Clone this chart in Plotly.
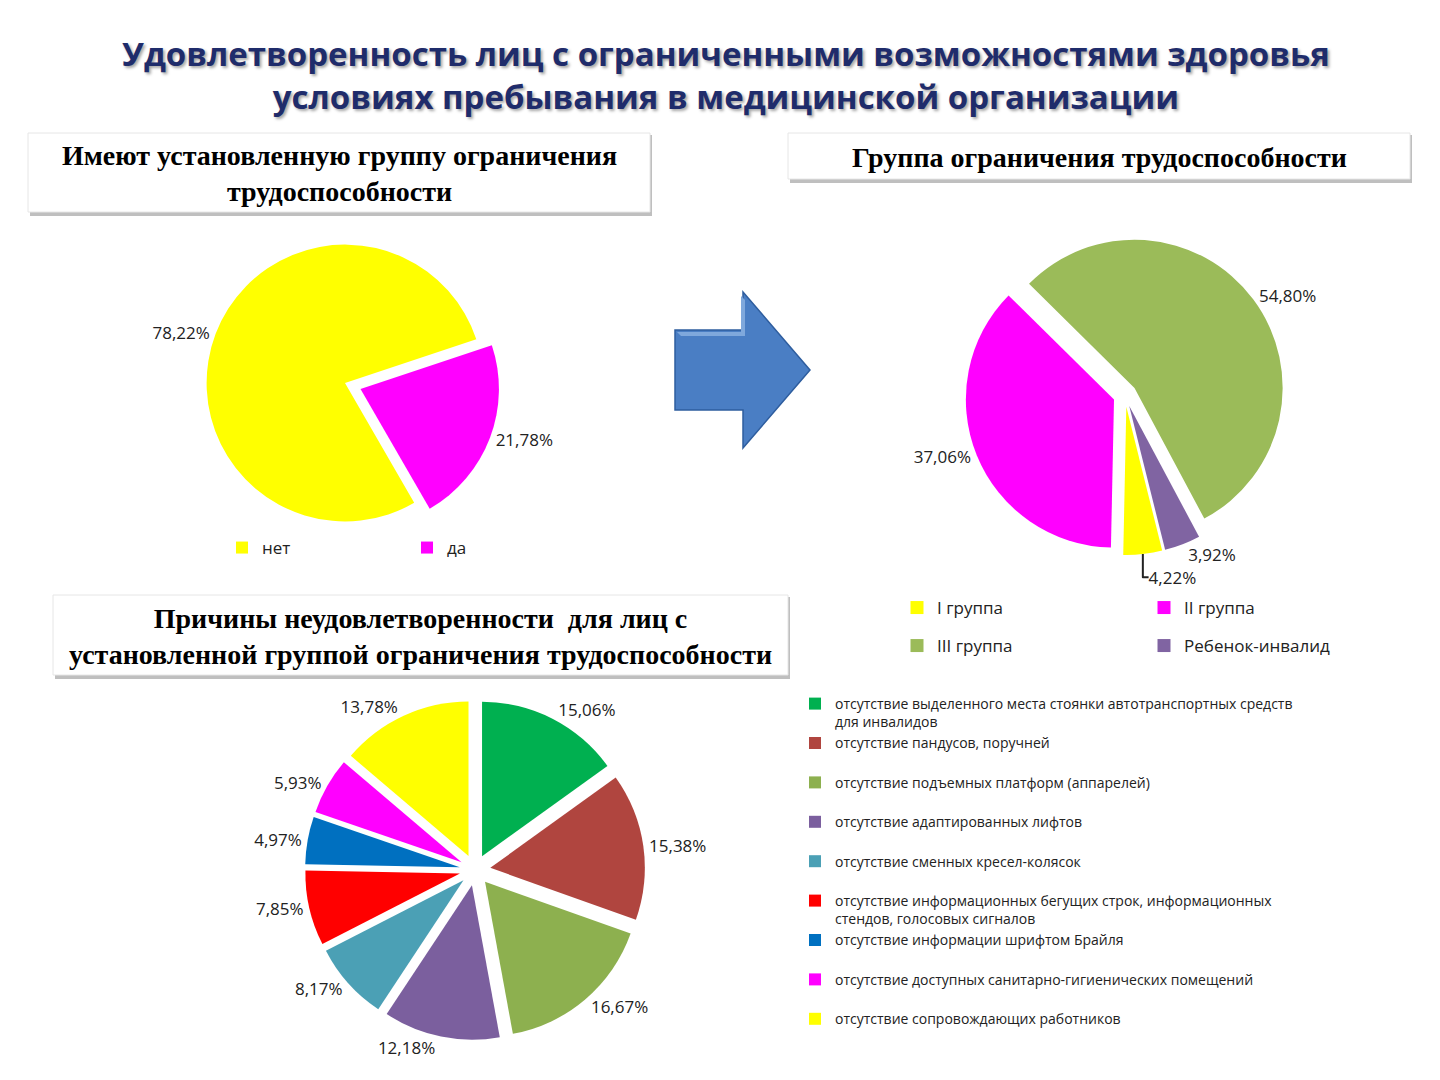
import plotly.graph_objects as go

W, H = 1440, 1080

# --- data ---
status_labels = ["нет", "да"]
status_values = [78.22, 21.78]
status_colors = ["#FFFF00", "#FF00FF"]

group_labels = ["I группа", "II группа", "III группа", "Ребенок-инвалид"]
group_values = [4.22, 37.06, 54.80, 3.92]
group_colors = ["#FFFF00", "#FF00FF", "#9BBB59", "#8064A2"]

reason_labels = [
    "отсутствие выделенного места стоянки автотранспортных средств<br>для инвалидов",
    "отсутствие пандусов, поручней",
    "отсутствие подъемных платформ (аппарелей)",
    "отсутствие адаптированных лифтов",
    "отсутствие сменных кресел-колясок",
    "отсутствие информационных бегущих строк, информационных<br>стендов, голосовых сигналов",
    "отсутствие информации шрифтом Брайля",
    "отсутствие доступных санитарно-гигиенических помещений",
    "отсутствие сопровождающих работников",
]
reason_values = [15.06, 15.38, 16.67, 12.18, 8.17, 7.85, 4.97, 5.93, 13.78]
reason_colors = ["#00B050", "#B0453F", "#8DB04F", "#7B5F9E", "#4BA0B5",
                 "#FF0000", "#0070C0", "#FF00FF", "#FFFF00"]


def pct(vals):
    return [f"{v:.2f}%".replace(".", ",") for v in vals]


def pad2(labels):
    # every legend entry takes two lines, like the slide
    return [l if "<br>" in l else l + "<br>\u00a0" for l in labels]


def px_x(x):
    return x / W


def px_y(y):
    return 1 - y / H


label_font = dict(family="Open Sans", size=17, color="#222222")

fig = go.Figure()

fig.add_trace(go.Pie(
    labels=status_labels, values=status_values, text=pct(status_values),
    texttemplate="%{text}", textposition="outside", textfont=label_font,
    marker=dict(colors=status_colors, line=dict(width=0)),
    sort=False, direction="clockwise", rotation=150, pull=[0, 0.12],
    domain=dict(x=[px_x(110), px_x(580)], y=[px_y(538), px_y(228)]),
    legend="legend", hoverinfo="label+percent",
))

fig.add_trace(go.Pie(
    labels=group_labels, values=group_values, text=pct(group_values),
    texttemplate="%{text}", textposition="outside", textfont=label_font,
    marker=dict(colors=group_colors, line=dict(width=0)),
    sort=False, direction="clockwise", rotation=166, pull=0.08,
    domain=dict(x=[px_x(880), px_x(1370)], y=[px_y(555), px_y(235)]),
    showlegend=False, hoverinfo="label+percent",
))

# the 2x2 legend of the group pie: two rows, two legends
for i, (name, color) in enumerate(zip(group_labels, group_colors)):
    fig.add_trace(go.Scatter(
        x=[None], y=[None], mode="markers", name=name,
        marker=dict(symbol="square", size=13, color=color),
        legend="legend2" if i < 2 else "legend4", hoverinfo="skip",
    ))

fig.add_trace(go.Pie(
    labels=pad2(reason_labels), values=reason_values, text=pct(reason_values),
    texttemplate="%{text}", textposition="outside", textfont=label_font,
    marker=dict(colors=reason_colors, line=dict(width=0)),
    sort=False, direction="clockwise", rotation=0, pull=0.1,
    domain=dict(x=[px_x(220), px_x(730)], y=[px_y(1040), px_y(700)]),
    legend="legend3", hoverinfo="label+percent",
))

shapes = []


def box(x0, y0, x1, y1):
    shapes.append(dict(type="rect", xref="paper", yref="paper",
                       x0=px_x(x0 + 2), x1=px_x(x1 + 2), y0=px_y(y1 + 4), y1=px_y(y0 + 2),
                       fillcolor="#BFBFBF", line=dict(width=0), layer="below"))
    shapes.append(dict(type="rect", xref="paper", yref="paper",
                       x0=px_x(x0), x1=px_x(x1), y0=px_y(y1), y1=px_y(y0),
                       fillcolor="white", line=dict(color="#E6E6E6", width=1), layer="below"))


box(28, 133, 650, 212)
box(788, 133, 1410, 179)
box(53, 595, 788, 675)

# blue arrow
arrow_pts = [(675, 330), (743, 330), (743, 292), (810, 370), (743, 448), (743, 410), (675, 410)]
path = "M " + " L ".join(f"{px_x(x)},{px_y(y)}" for x, y in arrow_pts) + " Z"
shapes.append(dict(type="path", xref="paper", yref="paper", path=path,
                   fillcolor="#4A7EC4", line=dict(color="#2E5D9E", width=1.5)))
hl_pts = [(677, 332), (741, 332), (741, 296), (745, 300), (745, 336), (681, 336)]
path = "M " + " L ".join(f"{px_x(x)},{px_y(y)}" for x, y in hl_pts) + " Z"
shapes.append(dict(type="path", xref="paper", yref="paper", path=path,
                   fillcolor="#7FA8DC", line=dict(width=0)))

serif = dict(family="Liberation Serif", size=28, color="black")


def note(text, x, y, font):
    return dict(text=text, x=px_x(x), y=px_y(y), xref="paper", yref="paper",
                xanchor="center", yanchor="middle", showarrow=False, font=font)


annotations = [
    note("<b>Удовлетворенность лиц с ограниченными возможностями здоровья<br>"
         "условиях пребывания в медицинской организации</b>", 726, 75,
         dict(family="Open Sans", size=33, color="#1F2C6B",
              shadow="2px 2px 3px rgba(0,0,0,0.35)")),
    note("<b>Имеют установленную группу ограничения<br>трудоспособности</b>", 339, 174, serif),
    note("<b>Группа ограничения трудоспособности</b>", 1099, 157, serif),
    note("<b>Причины неудовлетворенности  для лиц с<br>установленной группой ограничения трудоспособности</b>",
         420, 636, serif),
]

legend_font = dict(family="Open Sans", size=17, color="#222222")
no_bg = "rgba(0,0,0,0)"

fig.update_layout(
    width=W, height=H,
    margin=dict(l=0, r=0, t=0, b=0, autoexpand=False),
    paper_bgcolor="white", plot_bgcolor="white",
    xaxis=dict(visible=False), yaxis=dict(visible=False),
    shapes=shapes, annotations=annotations,
    legend=dict(orientation="h", x=px_x(222), y=px_y(530), xanchor="left", yanchor="top",
                font=legend_font, entrywidth=140, bgcolor=no_bg),
    legend2=dict(orientation="h", x=px_x(897), y=px_y(590), xanchor="left", yanchor="top",
                 font=legend_font, entrywidth=202, bgcolor=no_bg),
    legend4=dict(orientation="h", x=px_x(897), y=px_y(628), xanchor="left", yanchor="top",
                 font=legend_font, entrywidth=202, bgcolor=no_bg),
    legend3=dict(orientation="v", x=px_x(795), y=px_y(688), xanchor="left", yanchor="top",
                 font=dict(family="Open Sans", size=14, color="#222222"), valign="top",
                 bgcolor=no_bg),
)

fig.write_html("out.html", config={"displayModeBar": False},
               post_script="document.body.style.margin = '0px';")
